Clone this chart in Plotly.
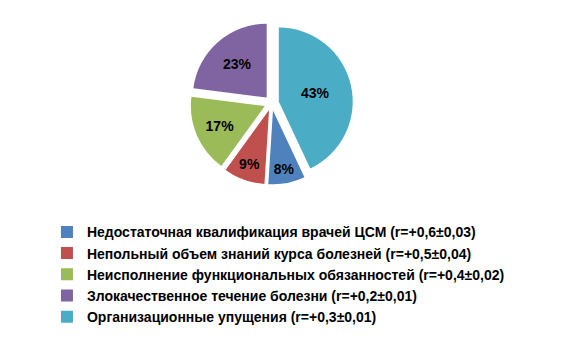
import plotly.graph_objects as go

categories = [
    "Недостаточная квалификация врачей ЦСМ (r=+0,6±0,03)",
    "Непольный объем знаний курса болезней (r=+0,5±0,04)",
    "Неисполнение функциональных обязанностей (r=+0,4±0,02)",
    "Злокачественное течение болезни (r=+0,2±0,01)",
    "Организационные упущения (r=+0,3±0,01)",
]
values = [8, 9, 17, 23, 43]
colors = ["#4F81BD", "#C0504D", "#9BBB59", "#8064A2", "#4BACC6"]

fig = go.Figure(go.Pie(
    labels=categories,
    values=values,
    sort=False,
    direction="clockwise",
    rotation=values[-1] / sum(values) * 360,
    marker=dict(colors=colors, line=dict(color="white", width=0)),
    pull=[0.1] * len(values),
    texttemplate="%{percent:.0%}",
    textposition="inside",
    insidetextorientation="horizontal",
    textfont=dict(family="Liberation Sans", size=14, color="black", weight="bold"),
    domain=dict(x=[0.20, 0.72], y=[0.49, 0.96]),
))

fig.update_layout(
    width=573, height=346,
    margin=dict(l=0, r=0, t=0, b=0),
    paper_bgcolor="white",
    showlegend=True,
    legend=dict(
        x=0.068, y=0.398, xanchor="left", yanchor="top",
        font=dict(family="Liberation Sans", size=14, color="black", weight="bold"),
        itemwidth=30, tracegroupgap=0,
    ),
)

fig.write_html("out.html")
